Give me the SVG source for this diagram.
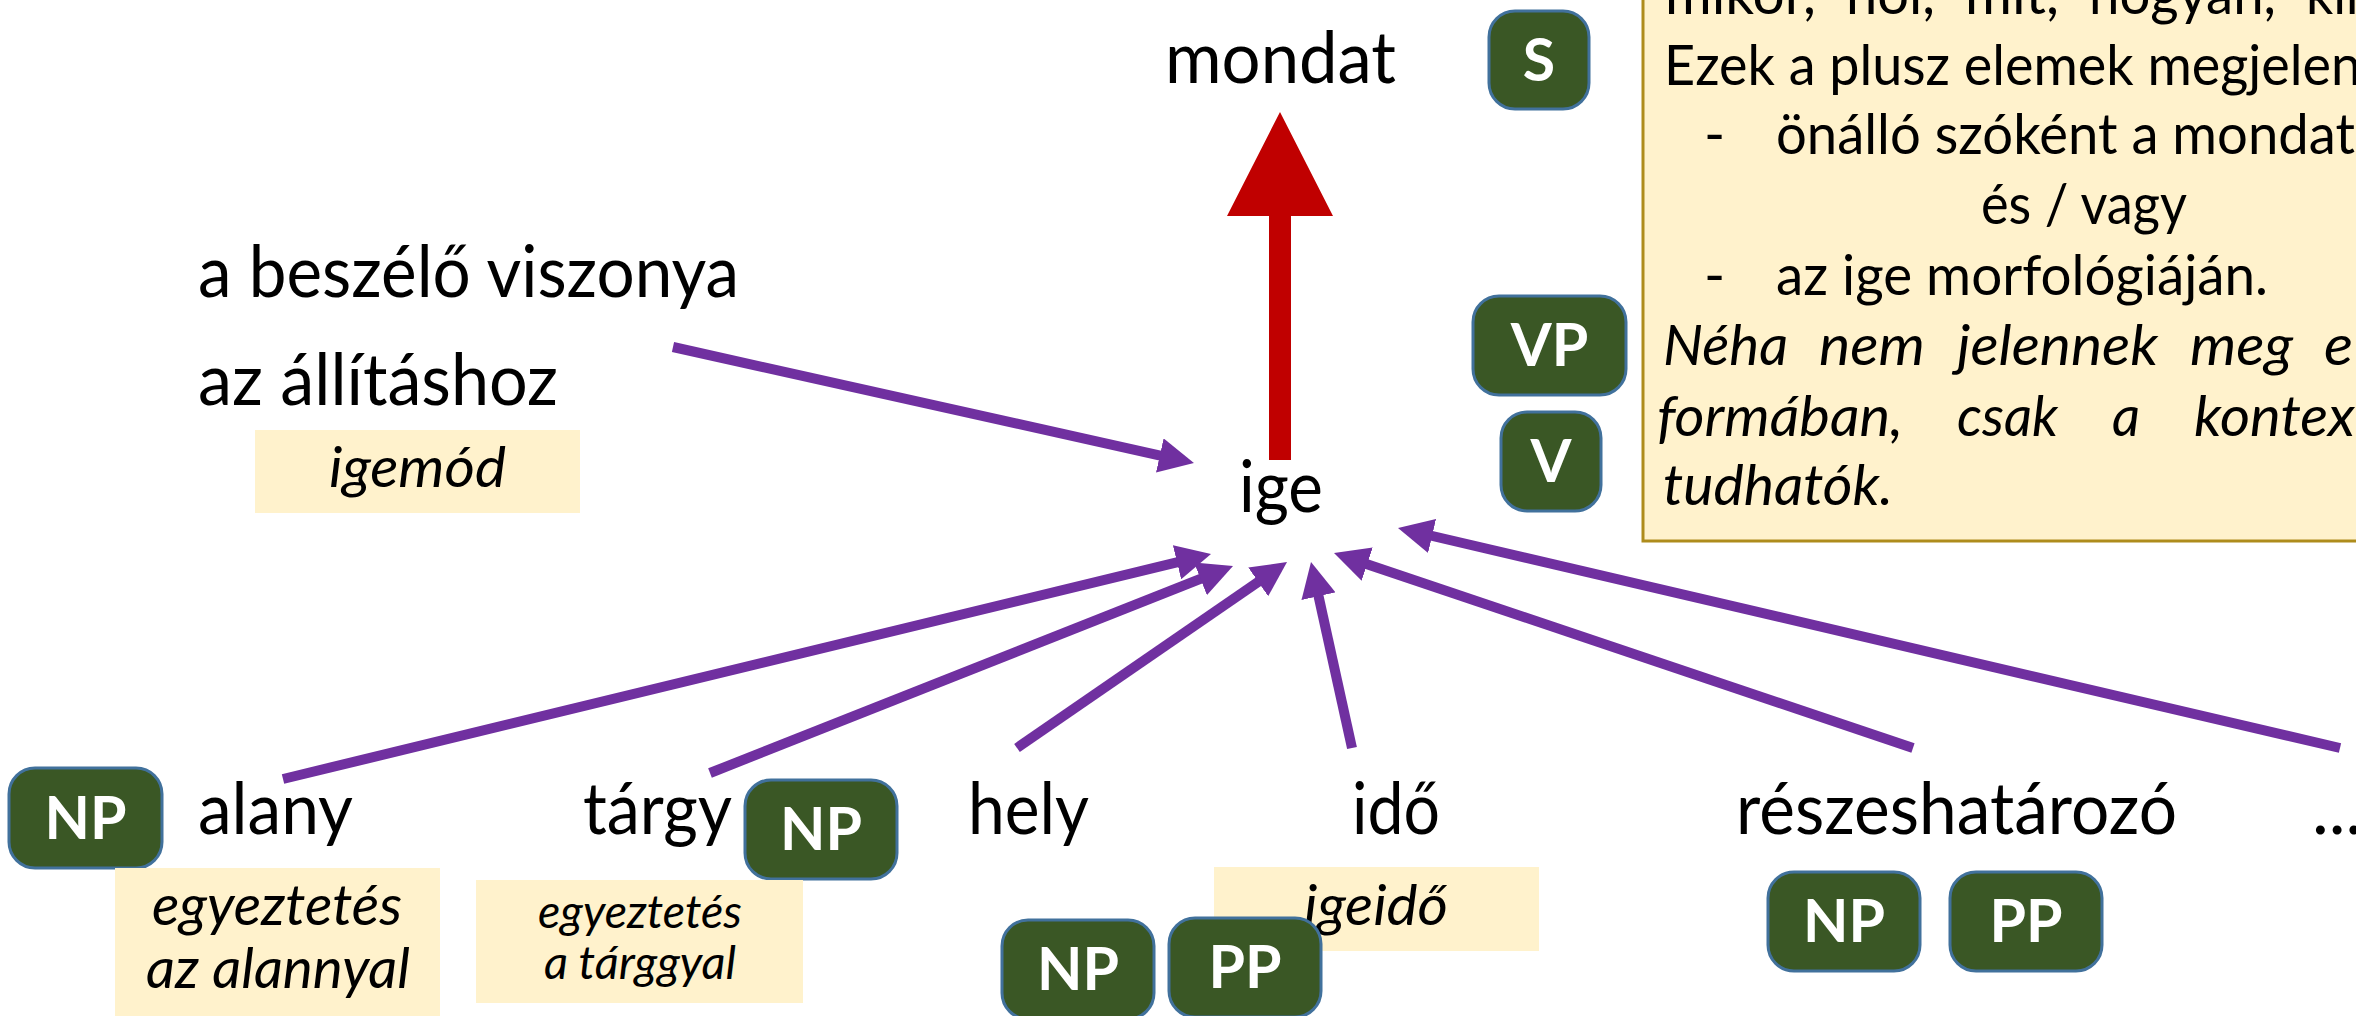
<svg xmlns="http://www.w3.org/2000/svg" width="2356" height="1016" viewBox="0 0 2356 1016">
<defs>
<style>
.t{font-family:Lato,"Open Sans","Liberation Sans",sans-serif;fill:#000}
.m{font-size:71px}
.n{font-size:57px}
.s{font-size:46px}
.it{font-style:italic}
.c{text-anchor:middle}
.lbl{font-family:Lato,"Open Sans","Liberation Sans",sans-serif;font-weight:bold;font-size:59px;fill:#fff;text-anchor:middle}
.g{fill:#3A5725;stroke:#41719C;stroke-width:3}
.y{fill:#FFF2CC}
.a{stroke:#7030A0;stroke-width:10;fill:none;marker-end:url(#ah)}
</style>
<marker id="ah" viewBox="0 0 35 35" refX="4" refY="17.5" markerWidth="35" markerHeight="35" markerUnits="userSpaceOnUse" orient="auto">
<path d="M0,0 L35,17.5 L0,35 z" fill="#7030A0"/>
</marker>
</defs>
<rect width="2356" height="1016" fill="#fff"/>

<g id="notes">
<rect x="1643" y="-10" width="800" height="551" fill="#FFF2CC" stroke="#AE8C1C" stroke-width="3"/>
<text class="t n" y="14" lengthAdjust="spacingAndGlyphs"><tspan x="1665" textLength="151" lengthAdjust="spacingAndGlyphs">mikor,</tspan><tspan x="1846" textLength="89" lengthAdjust="spacingAndGlyphs">hol,</tspan><tspan x="1965" textLength="94" lengthAdjust="spacingAndGlyphs">mit,</tspan><tspan x="2089" textLength="187" lengthAdjust="spacingAndGlyphs">hogyan,</tspan><tspan x="2306" textLength="70" lengthAdjust="spacingAndGlyphs">kin</tspan></text>
<text class="t n" x="1664" y="85" textLength="697" lengthAdjust="spacingAndGlyphs">Ezek a plusz elemek megjelen</text>
<text class="t n" x="1704" y="154">-</text>
<text class="t n" x="1776" y="154" textLength="579" lengthAdjust="spacingAndGlyphs">önálló szóként a mondat</text>
<text class="t n" x="1981" y="224" textLength="206" lengthAdjust="spacingAndGlyphs">és / vagy</text>
<text class="t n" x="1704" y="295">-</text>
<text class="t n" x="1776" y="295" textLength="492" lengthAdjust="spacingAndGlyphs">az ige morfológiáján.</text>
<text class="t n it" y="365"><tspan x="1663" textLength="125" lengthAdjust="spacingAndGlyphs">Néha</tspan><tspan x="1819" textLength="106" lengthAdjust="spacingAndGlyphs">nem</tspan><tspan x="1957" textLength="201" lengthAdjust="spacingAndGlyphs">jelennek</tspan><tspan x="2190" textLength="103" lengthAdjust="spacingAndGlyphs">meg</tspan><tspan x="2324" textLength="29" lengthAdjust="spacingAndGlyphs">e</tspan></text>
<text class="t n it" y="436"><tspan x="1657" textLength="246" lengthAdjust="spacingAndGlyphs">formában,</tspan><tspan x="1957" textLength="101" lengthAdjust="spacingAndGlyphs">csak</tspan><tspan x="2112" textLength="28" lengthAdjust="spacingAndGlyphs">a</tspan><tspan x="2194" textLength="161" lengthAdjust="spacingAndGlyphs">kontex</tspan></text>
<text class="t n it" x="1663" y="505" textLength="230" lengthAdjust="spacingAndGlyphs">tudhatók.</text>
</g>

<g id="connectors">
<path d="M1269,460 L1291,460 L1291,216 L1333,216 L1280,112 L1227,216 L1269,216 Z" fill="#C00000"/>
<line class="a" x1="673" y1="347" x2="1163.7" y2="456.3"/>
<line class="a" x1="283" y1="779" x2="1180.9" y2="561.3"/>
<line class="a" x1="710" y1="773" x2="1204.2" y2="577.4"/>
<line class="a" x1="1017" y1="748" x2="1261.5" y2="579.6"/>
<line class="a" x1="1352" y1="748" x2="1317.7" y2="592.3"/>
<line class="a" x1="1913" y1="748" x2="1363.4" y2="562.9"/>
<line class="a" x1="2340" y1="748" x2="1428.2" y2="535"/>
</g>

<g id="mondat"><text class="t m" x="1165" y="83" textLength="231" lengthAdjust="spacingAndGlyphs">mondat</text></g>
<g id="ige"><text class="t m" x="1239" y="512" textLength="84" lengthAdjust="spacingAndGlyphs">ige</text></g>
<g id="beszelo">
<text class="t m" x="198" y="297" textLength="541" lengthAdjust="spacingAndGlyphs">a beszélő viszonya</text>
<text class="t m" x="198" y="405" textLength="360" lengthAdjust="spacingAndGlyphs">az állításhoz</text>
</g>
<g id="igemod"><rect class="y" x="255" y="430" width="325" height="83"/><text class="t n it" x="329" y="487" textLength="177" lengthAdjust="spacingAndGlyphs">igemód</text></g>

<g id="S"><rect class="g" x="1489" y="11" width="100" height="98" rx="26"/><text class="lbl" x="1539" y="81">S</text></g>
<g id="VP"><rect class="g" x="1473" y="296" width="153" height="99" rx="26"/><text class="lbl" x="1549.5" y="366">VP</text></g>
<g id="V"><rect class="g" x="1501" y="412" width="100" height="99" rx="26"/><text class="lbl" x="1551" y="482">V</text></g>

<g id="alany">
<text class="t m" x="198" y="834" textLength="155" lengthAdjust="spacingAndGlyphs">alany</text>
<rect class="g" x="9" y="768" width="153" height="100" rx="26"/><text class="lbl" x="85.5" y="839">NP</text>
<rect class="y" x="115" y="868" width="325" height="150"/>
<text class="t n it" x="152" y="925" textLength="250" lengthAdjust="spacingAndGlyphs">egyeztetés</text>
<text class="t n it" x="146" y="988" textLength="264" lengthAdjust="spacingAndGlyphs">az alannyal</text>
</g>

<g id="targy">
<text class="t m" x="583" y="834" textLength="149" lengthAdjust="spacingAndGlyphs">tárgy</text>
<rect class="g" x="745" y="780" width="152" height="99" rx="26"/><text class="lbl" x="821" y="850">NP</text>
<rect class="y" x="476" y="880" width="327" height="123"/>
<text class="t s it" x="538" y="928" textLength="204" lengthAdjust="spacingAndGlyphs">egyeztetés</text>
<text class="t s it" x="544" y="979" textLength="192" lengthAdjust="spacingAndGlyphs">a tárggyal</text>
</g>

<g id="hely">
<text class="t m" x="968" y="834" textLength="121" lengthAdjust="spacingAndGlyphs">hely</text>
<rect class="g" x="1002" y="920" width="152" height="99" rx="26"/><text class="lbl" x="1078" y="990">NP</text>
</g>

<g id="ido">
<text class="t m" x="1352" y="834" textLength="88" lengthAdjust="spacingAndGlyphs">idő</text>
<rect class="y" x="1214" y="867" width="325" height="84"/>
<text class="t n it" x="1304" y="925" textLength="144" lengthAdjust="spacingAndGlyphs">igeidő</text>
</g>
<g id="hely-PP"><rect class="g" x="1169" y="918" width="152" height="99" rx="26"/><text class="lbl" x="1245" y="988">PP</text></g>

<g id="reszes">
<text class="t m" x="1736" y="834" textLength="441" lengthAdjust="spacingAndGlyphs">részeshatározó</text>
<rect class="g" x="1768" y="872" width="152" height="99" rx="26"/><text class="lbl" x="1844" y="942">NP</text>
<rect class="g" x="1950" y="872" width="152" height="99" rx="26"/><text class="lbl" x="2026" y="942">PP</text>
</g>

<g id="ellipsis"><text class="t m" x="2312" y="834">...</text></g>
</svg>
